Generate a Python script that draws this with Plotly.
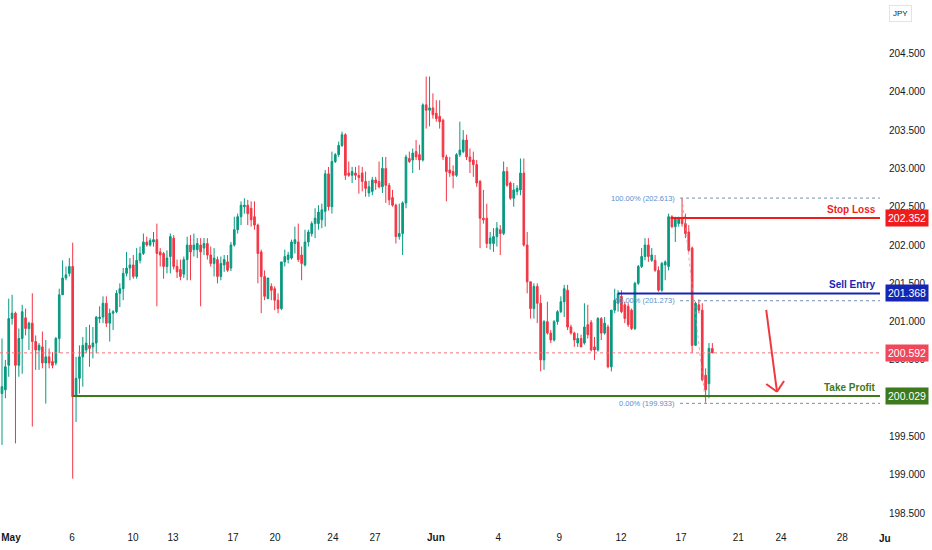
import plotly.graph_objects as go

# 4H candles, oldest first (JPY pair, May - June)
opens = [200.06, 200.11, 200.43, 201.04, 201.11, 200.43, 200.78, 201.05, 200.91, 200.98,
         200.74, 200.63, 200.67, 200.46, 200.54, 200.48, 200.46, 200.78, 201.35, 201.57,
         201.63, 201.72, 200.02, 200.26, 200.54, 200.63, 200.69, 200.67, 200.72, 201.04,
         201.06, 201.24, 200.98, 201.11, 201.13, 201.37, 201.43, 201.63, 201.70, 201.74,
         201.59, 201.80, 201.89, 202.04, 202.00, 202.04, 202.07, 201.91, 201.89, 201.72,
         201.85, 202.09, 201.72, 201.68, 201.62, 201.81, 202.00, 201.94, 201.94, 202.00,
         201.96, 202.02, 201.87, 201.76, 201.81, 201.59, 201.74, 201.78, 201.70, 202.00,
         202.20, 202.37, 202.50, 202.52, 202.48, 202.37, 202.26, 201.91, 201.59, 201.30,
         201.46, 201.43, 201.28, 201.17, 201.78, 201.81, 201.83, 202.02, 202.04, 201.87,
         201.74, 202.04, 202.15, 202.28, 202.28, 202.33, 202.44, 202.93, 202.50, 203.09,
         203.18, 203.30, 203.44, 202.94, 202.91, 202.94, 202.91, 202.94, 202.83, 202.68,
         202.70, 202.85, 202.83, 202.76, 203.00, 202.78, 202.62, 202.52, 202.11, 202.15,
         202.55, 203.13, 203.11, 203.22, 203.18, 203.11, 203.83, 203.76, 203.79, 203.72,
         203.68, 203.63, 203.15, 202.98, 202.96, 202.91, 203.18, 203.22, 203.37, 203.15,
         203.11, 203.05, 202.83, 202.35, 202.35, 202.02, 202.02, 202.11, 202.20, 202.15,
         202.96, 202.81, 202.61, 202.70, 202.72, 202.94, 202.00, 201.52, 201.17, 201.46,
         201.24, 200.50, 201.00, 200.85, 200.76, 201.00, 201.13, 201.26, 201.41, 200.93,
         200.85, 200.72, 200.78, 200.72, 200.96, 200.99, 200.67, 200.63, 201.04, 200.85,
         200.93, 200.41, 201.15, 201.24, 201.33, 201.22, 201.20, 201.15, 200.91, 201.50,
         201.72, 201.85, 202.00, 201.80, 201.80, 201.67, 201.41, 201.74, 201.72, 202.37,
         202.24, 202.28, 202.35, 202.28, 202.17, 201.96, 200.69, 201.22, 201.15, 200.30,
         200.19, 200.65]
highs = [200.78, 200.50, 201.30, 201.35, 201.13, 200.91, 201.22, 201.17, 201.00, 201.37,
         200.82, 200.72, 200.87, 200.76, 200.65, 200.60, 200.80, 201.43, 201.80, 201.72,
         201.83, 202.03, 200.54, 200.69, 200.80, 200.93, 200.96, 200.93, 201.07, 201.20,
         201.33, 201.33, 201.17, 201.15, 201.41, 201.50, 201.70, 201.91, 201.83, 201.87,
         201.96, 201.98, 202.15, 202.11, 202.09, 202.17, 202.28, 201.96, 201.91, 201.93,
         202.15, 202.13, 201.81, 201.81, 201.85, 202.11, 202.13, 202.15, 202.09, 202.09,
         202.09, 202.09, 201.98, 201.96, 201.85, 201.85, 201.87, 201.87, 202.04, 202.37,
         202.41, 202.57, 202.61, 202.59, 202.57, 202.57, 202.28, 201.94, 201.67, 201.57,
         201.50, 201.46, 201.37, 201.78, 201.94, 201.91, 202.07, 202.24, 202.28, 201.98,
         202.20, 202.20, 202.31, 202.48, 202.52, 202.54, 202.98, 203.02, 203.22, 203.20,
         203.35, 203.48, 203.46, 203.09, 203.02, 203.02, 203.04, 203.02, 202.96, 202.84,
         202.89, 202.89, 203.09, 203.15, 203.15, 202.81, 202.72, 202.54, 202.54, 202.57,
         203.18, 203.22, 203.26, 203.37, 203.31, 203.85, 204.20, 204.20, 203.98, 203.89,
         203.89, 203.65, 203.18, 203.15, 203.04, 203.20, 203.61, 203.50, 203.44, 203.26,
         203.22, 203.11, 202.85, 202.72, 202.54, 202.17, 202.22, 202.30, 202.26, 203.09,
         203.02, 202.83, 202.81, 202.78, 203.13, 203.13, 202.17, 201.52, 201.50, 201.50,
         201.35, 201.02, 201.26, 200.89, 201.02, 201.15, 201.33, 201.48, 201.48, 200.96,
         200.87, 200.85, 200.83, 201.24, 201.22, 201.02, 200.80, 201.06, 201.06, 201.06,
         200.96, 201.15, 201.43, 201.41, 201.41, 201.26, 201.24, 201.17, 201.52, 201.74,
         201.96, 202.09, 202.09, 201.96, 201.87, 201.72, 201.78, 201.80, 202.41, 202.39,
         202.37, 202.37, 202.613, 202.41, 202.26, 201.98, 201.26, 201.29, 201.24, 200.39,
         200.72, 200.72]
lows = [199.39, 200.00, 200.28, 200.96, 199.41, 200.28, 200.32, 200.82, 200.63, 199.63,
        200.37, 200.37, 200.39, 199.93, 200.39, 200.39, 200.43, 200.59, 201.35, 201.54,
        201.59, 198.95, 199.69, 200.06, 200.15, 200.59, 200.41, 200.52, 200.59, 200.98,
        200.98, 200.93, 200.74, 200.89, 201.11, 201.19, 201.28, 201.59, 201.54, 201.56,
        201.56, 201.76, 201.87, 201.98, 201.98, 201.98, 201.20, 201.72, 201.56, 201.63,
        201.63, 201.68, 201.57, 201.54, 201.57, 201.54, 201.54, 201.85, 201.83, 201.20,
        201.87, 201.81, 201.72, 201.59, 201.50, 201.54, 201.65, 201.65, 201.66, 201.98,
        202.15, 202.26, 202.41, 202.26, 202.24, 202.20, 201.50, 201.11, 201.28, 201.30,
        201.28, 201.15, 201.11, 201.15, 201.72, 201.76, 201.81, 201.89, 201.78, 201.54,
        201.72, 201.98, 202.11, 202.09, 202.20, 202.22, 202.24, 202.45, 202.41, 203.07,
        203.15, 203.28, 202.85, 202.89, 202.81, 202.85, 202.67, 202.70, 202.63, 202.63,
        202.65, 202.72, 202.74, 202.68, 202.55, 202.52, 202.50, 202.02, 202.07, 201.87,
        202.48, 203.07, 202.94, 203.11, 202.98, 203.09, 203.52, 203.55, 203.65, 203.61,
        203.52, 203.11, 202.57, 202.89, 202.74, 202.89, 203.15, 203.20, 203.11, 202.94,
        202.89, 202.76, 201.96, 202.28, 201.96, 201.94, 201.91, 201.98, 201.87, 202.13,
        202.76, 202.59, 202.50, 202.65, 202.65, 201.98, 201.37, 201.04, 201.04, 200.98,
        200.35, 200.37, 200.83, 200.72, 200.74, 200.96, 201.11, 201.06, 200.89, 200.83,
        200.67, 200.67, 200.67, 200.70, 200.78, 200.61, 200.50, 200.61, 200.76, 200.83,
        200.39, 200.35, 201.11, 201.13, 201.11, 200.98, 200.93, 200.89, 200.89, 201.48,
        201.70, 201.80, 201.78, 201.78, 201.65, 201.39, 201.39, 201.54, 201.67, 202.22,
        202.04, 202.24, 202.24, 202.09, 201.91, 200.59, 200.69, 201.11, 200.22, 199.933,
        200.00, 200.59]
closes = [200.15, 200.41, 201.04, 201.11, 200.43, 200.78, 201.13, 200.91, 200.98, 200.74,
          200.63, 200.69, 200.46, 200.54, 200.46, 200.43, 200.78, 201.35, 201.57, 201.61,
          201.72, 200.02, 200.26, 200.54, 200.69, 200.72, 200.65, 200.72, 201.06, 201.06,
          201.24, 200.98, 201.11, 201.13, 201.37, 201.43, 201.63, 201.70, 201.74, 201.59,
          201.80, 201.89, 202.04, 202.00, 202.06, 202.07, 201.89, 201.87, 201.72, 201.83,
          202.11, 201.72, 201.65, 201.59, 201.81, 202.00, 201.91, 202.00, 202.02, 201.91,
          202.02, 201.87, 201.76, 201.83, 201.59, 201.76, 201.81, 201.67, 202.00, 202.20,
          202.37, 202.52, 202.52, 202.41, 202.33, 202.26, 201.89, 201.59, 201.33, 201.57,
          201.41, 201.28, 201.17, 201.78, 201.85, 201.87, 202.04, 202.07, 201.81, 201.76,
          202.04, 202.17, 202.28, 202.35, 202.43, 202.46, 202.93, 202.50, 203.09, 203.18,
          203.30, 203.44, 202.91, 202.91, 202.96, 202.91, 202.88, 202.83, 202.74, 202.76,
          202.85, 202.81, 202.76, 203.00, 202.78, 202.59, 202.52, 202.11, 202.15, 202.55,
          203.15, 203.09, 203.20, 203.15, 203.11, 203.83, 203.76, 203.79, 203.70, 203.65,
          203.61, 203.15, 202.96, 202.94, 202.91, 203.18, 203.24, 203.37, 203.15, 203.09,
          203.05, 202.81, 202.35, 202.33, 202.02, 202.09, 202.11, 202.22, 202.15, 202.96,
          202.78, 202.61, 202.72, 202.74, 202.94, 202.00, 201.52, 201.17, 201.46, 201.24,
          200.50, 201.00, 200.85, 200.76, 201.00, 201.13, 201.26, 201.43, 200.93, 200.85,
          200.76, 200.78, 200.67, 200.93, 200.83, 200.63, 200.63, 201.04, 200.85, 200.98,
          200.41, 201.15, 201.28, 201.37, 201.13, 201.04, 200.96, 200.91, 201.50, 201.72,
          201.85, 202.00, 201.85, 201.87, 201.67, 201.41, 201.76, 201.78, 202.37, 202.24,
          202.35, 202.35, 202.28, 202.15, 201.93, 200.69, 201.24, 201.15, 200.24, 200.11,
          200.65, 200.592]

# time axis labels (positions in bar units)
tick_pos = [2.67, 20.8, 38.9, 50.8, 68.6, 81.1, 98.3, 110.8, 128.9, 147.4, 165.5, 183.9,
            201.7, 218.7, 231.4, 249.6]
tick_text = ["<b>May</b>", "6", "10", "13", "17", "20", "24", "27", "<b>Jun</b>", "4", "9",
             "12", "17", "21", "24", "28"]
price_ticks = [198.5, 199.0, 199.5, 200.0, 200.5, 201.0, 201.5, 202.0, 202.5, 203.0,
               203.5, 204.0, 204.5]

# trade levels
stop_loss = 202.352
sell_entry = 201.368
take_profit = 200.029
last_price = 200.592
fib_high = 202.613
fib_low = 199.933
fib_mid = round((fib_high + fib_low) / 2, 3)

x = list(range(len(opens)))
X_MIN, X_MAX = -0.594, 260.8

RED = "#F23645"
GREEN = "#089981"
SL_COL = "#F01B1B"
SE_COL = "#1626B4"
TP_COL = "#3C7A1C"
FIB_COL = "#5B8FCB"
FONT = "Liberation Sans"

fig = go.Figure(go.Candlestick(
    x=x, open=opens, high=highs, low=lows, close=closes,
    increasing=dict(line=dict(color=GREEN, width=1), fillcolor=GREEN),
    decreasing=dict(line=dict(color=RED, width=1), fillcolor=RED),
    hoverinfo="skip",
))

# current price dotted line
fig.add_shape(type="line", x0=X_MIN, x1=X_MAX, y0=last_price, y1=last_price,
              line=dict(color="#F7707C", width=1, dash="dot"))

# fibonacci levels
for lvl, txt in [(fib_high, "100.00% (202.613)"), (fib_mid, "50.00% (201.273)"),
                 (fib_low, "0.00% (199.933)")]:
    fig.add_shape(type="line", x0=201.4, x1=X_MAX, y0=lvl, y1=lvl,
                  line=dict(color="#7A8FB0", width=1, dash="dot"))
    fig.add_annotation(x=200.6, y=lvl, text=txt, showarrow=False, xanchor="right",
                       yanchor="middle", font=dict(family=FONT, size=7.5, color=FIB_COL))
fig.add_shape(type="line", x0=202, x1=209, y0=fib_high, y1=fib_low,
              line=dict(color="rgba(215,140,150,0.7)", width=1, dash="dot"))

# trade lines
for lvl, start, col, name in [(stop_loss, 198.6, SL_COL, "Stop Loss"),
                              (sell_entry, 183, SE_COL, "Sell Entry"),
                              (take_profit, 21, TP_COL, "Take Profit")]:
    fig.add_shape(type="line", x0=start, x1=X_MAX, y0=lvl, y1=lvl,
                  line=dict(color=col, width=2))
    fig.add_annotation(x=1, xref="paper", y=lvl, text="<b>%s</b>" % name, showarrow=False,
                       xanchor="right", yanchor="bottom", xshift=-2, yshift=1,
                       font=dict(family=FONT, size=10, color=col))

# price scale boxes
for lvl, col in [(stop_loss, SL_COL), (sell_entry, SE_COL), (last_price, "#F0485A"),
                 (take_profit, TP_COL)]:
    fig.add_annotation(x=1, xref="paper", y=lvl, text="%.3f" % lvl, showarrow=False,
                       xanchor="left", yanchor="middle", xshift=5, bgcolor=col,
                       borderpad=2, font=dict(family=FONT, size=10.5, color="white"))

# hand-drawn red arrow
arrow = [((227.0, 201.152), (230.2, 200.085)),
         ((227.0, 200.186), (230.2, 200.085)),
         ((230.2, 200.085), (232.3, 200.225))]
for (ax0, ay0), (ax1, ay1) in arrow:
    fig.add_shape(type="line", x0=ax0, y0=ay0, x1=ax1, y1=ay1,
                  line=dict(color="#EE3A3F", width=2))

fig.add_annotation(x=1, xref="paper", y=0, yref="paper", text="<b>Ju</b>", showarrow=False,
                   xanchor="left", yanchor="top", xshift=-3, yshift=-9,
                   font=dict(family=FONT, size=10, color="#131722"))
fig.add_annotation(x=1, xref="paper", y=1, yref="paper", text="JPY", showarrow=False,
                   xanchor="left", yanchor="top", xshift=9, yshift=-5, borderpad=3,
                   bordercolor="#E0E3EB", borderwidth=1, bgcolor="white",
                   font=dict(family=FONT, size=8, color="#131722"))

fig.update_layout(
    width=932, height=550, autosize=False,
    margin=dict(l=0, r=52, t=0, b=28),
    paper_bgcolor="white", plot_bgcolor="white",
    showlegend=False, hovermode=False,
    xaxis=dict(range=[X_MIN, X_MAX], rangeslider=dict(visible=False), showgrid=False,
               zeroline=False, showline=False, tickvals=tick_pos, ticktext=tick_text,
               ticks="outside", ticklen=6, tickcolor="rgba(0,0,0,0)",
               tickfont=dict(family=FONT, size=10, color="#131722")),
    yaxis=dict(side="right", range=[198.384, 205.199], showgrid=False, zeroline=False,
               showline=False, tickvals=price_ticks, tickformat=".3f",
               ticks="outside", ticklen=6, tickcolor="rgba(0,0,0,0)",
               tickfont=dict(family=FONT, size=10, color="#131722")),
)

# the page has a default body margin; drop it so the chart fills the window
fig.write_html("out.html", config={"displayModeBar": False},
               post_script="document.body.style.margin='0';document.body.style.overflow='hidden';")
